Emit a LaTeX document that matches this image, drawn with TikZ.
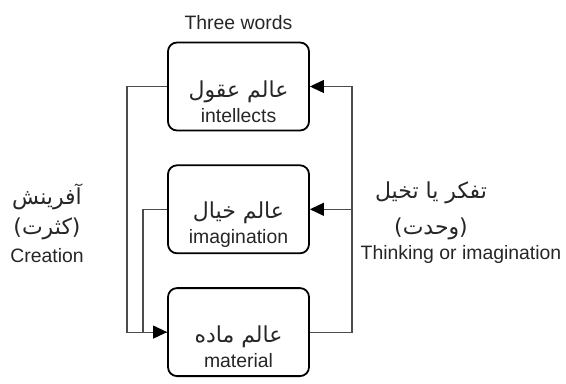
\documentclass[tikz,border=0pt]{standalone}
\usepackage{fontspec}
\setmainfont{Liberation Sans}
\newfontfamily\arabicfont[Script=Arabic]{DejaVu Sans}
\TeXXeTstate=1
\usetikzlibrary{arrows.meta}
\usetikzlibrary{positioning}

\newcommand{\fa}[1]{{\arabicfont\fontsize{11}{13}\selectfont\beginR #1\endR}}

\begin{document}
\begin{tikzpicture}[x=0.5pt, y=-0.5pt, >={Triangle[length=7pt,width=6.5pt,color=black]}, node distance=16.5pt,
    font=\fontsize{9.7}{11}\selectfont, text=black!85]
		 \tikzstyle{world} = [draw, line width=0.9pt, rounded corners=4.5pt, minimum width=70.5pt, minimum height=44pt, inner sep=0pt]
		 \tikzstyle{words} = [align=center, inner sep=0pt]
		 \tikzstyle{link} = [draw=black!70, line width=0.55pt]

		 \useasboundingbox (0,0) rectangle (566,384);

		 \node [world]                     (T) at (238.5,86.5)      {};
		 \node [world]                     (M) [below = of T]       {};
		 \node [world]                     (B) [below = of M]       {};

		 \node [words]                     (title) [above = 6pt of T] {Three words};
		 \node [words, yshift=-7.5pt]      (Ttext) at (T)  {\fa{عالم عقول}\\[1.5pt]intellects};
		 \node [words, yshift=-7.5pt]      (Mtext) at (M)  {\fa{عالم خیال}\\[1.5pt]imagination};
		 \node [words, yshift=-7.5pt]      (Btext) at (B)  {\fa{عالم ماده}\\[1.5pt]material};

		 \node [words]                     (create) at (47,223) {\fa{آفرینش}\\[3pt]\fa{(کثرت)}\\[3pt]Creation};
		 \node [words]                     (think) at (431,211) {\fa{تفکر یا تخیل}\\[6pt]\fa{(وحدت)}};
		 \node [words]                     (thinkEn) at (461,254) {Thinking or imagination};

		 \coordinate (lout) at (127,0);
		 \coordinate (lin)  at (143,0);
		 \coordinate (rout) at (352,0);

		 \draw [link] (T.west) -- (T.west -| lout) |- (B.west);
		 \draw [link] (M.west) -- (M.west -| lin) |- (B.west);
		 \draw [link, ->] (lin |- B.west) -- (B.west);
		 \draw [link, ->] (B.east) -- (B.east -| rout) |- (T.east);
		 \draw [link, ->] (M.east -| rout) -- (M.east);
	\end{tikzpicture}
\end{document}
